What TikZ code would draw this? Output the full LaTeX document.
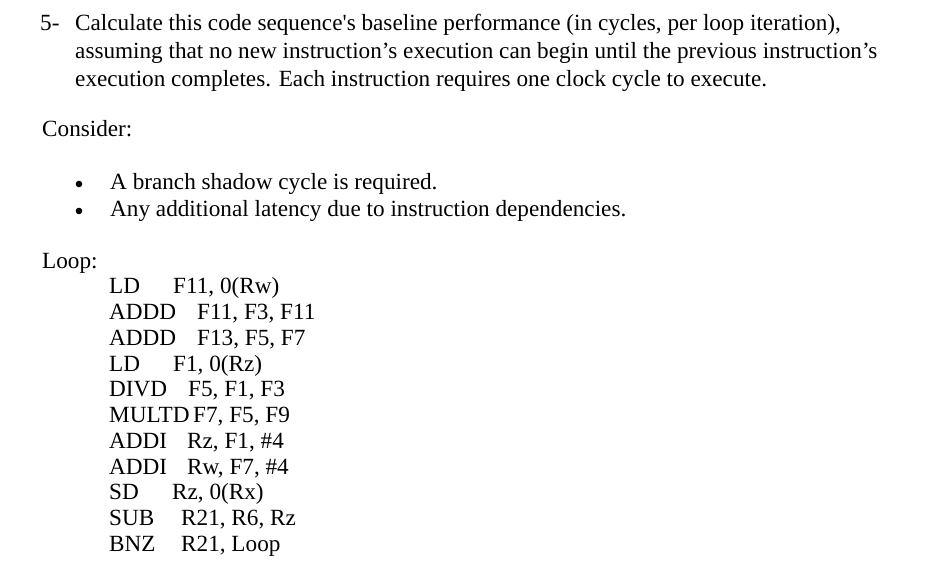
\documentclass[tikz,border=0pt]{standalone}
\usepackage{fontspec}
\setmainfont{Liberation Serif}
\newfontfamily\rawserif{Liberation Serif}
\begin{document}
\begin{tikzpicture}[x=1pt,y=-1pt,
  txt/.style={anchor=base west,inner sep=0pt,font=\fontsize{23.2}{26}\selectfont}]
\useasboundingbox (0,0) rectangle (930,567);
\node[txt] (n5) at (40,31) {5-};
\node[txt] (l1) at (75,31) {Calculate this code sequence{\rawserif '}s baseline performance (in cycles, per loop iteration),};
\node[txt] (l2) at (75,59) {assuming that no new instruction’s execution can begin until the previous instruction’s};
\node[txt] (l3) at (75,87) {execution completes. Each instruction requires one clock cycle to execute.};
\node[txt] (cons) at (42,137) {Consider:};
\fill (79,184) circle (3.3);
\fill (79,211) circle (3.3);
\node[txt] (b1) at (110,190) {A branch shadow cycle is required.};
\node[txt] (b2) at (110,217) {Any additional latency due to instruction dependencies.};
\node[txt] (loop) at (42,269) {Loop:};
\foreach \y/\op/\ox/\arg in {
 293/LD/173/{F11, 0(Rw)},
 319/ADDD/197/{F11, F3, F11},
 345/ADDD/197/{F13, F5, F7},
 371/LD/173/{F1, 0(Rz)},
 396/DIVD/188/{F5, F1, F3},
 422/MULTD/193/{F7, F5, F9},
 448/ADDI/187/{Rz, F1, \#4},
 474/ADDI/187/{Rw, F7, \#4},
 499/SD/172/{Rz, 0(Rx)},
 525/SUB/181/{R21, R6, Rz},
 551/BNZ/181/{R21, Loop}}{
  \node[txt] at (109,\y) {\op};
  \node[txt] at (\ox,\y) {\arg};
}
\end{tikzpicture}
\end{document}
